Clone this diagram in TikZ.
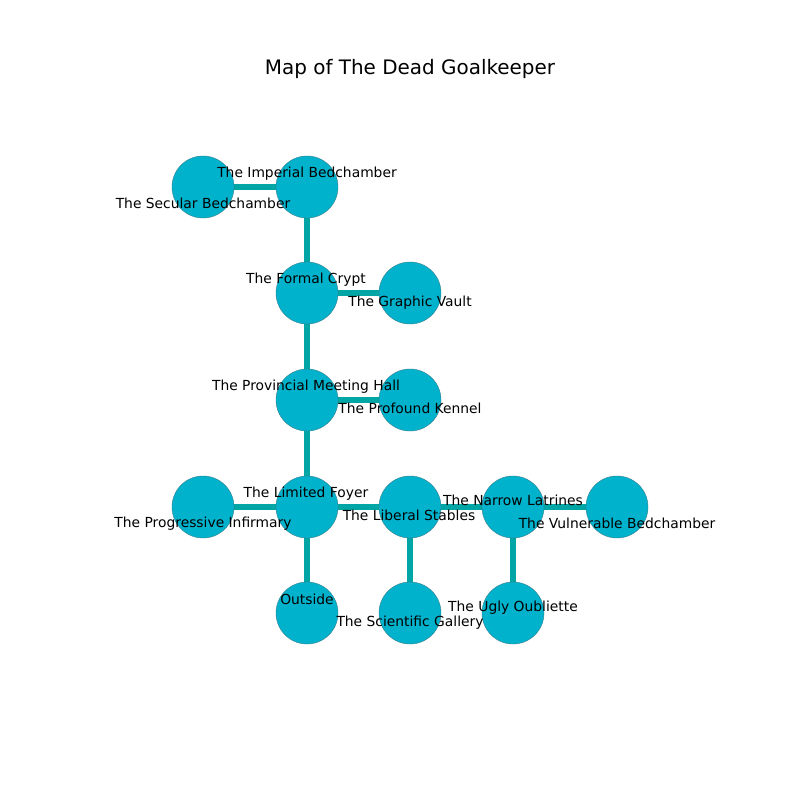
\documentclass[tikz,border=0pt]{standalone}
\usepackage{fontspec}
\setmainfont{DejaVu Sans}
\definecolor{nodefill}{HTML}{00B2CC}
\definecolor{edgecol}{HTML}{00A5A5}
\definecolor{nodeline}{HTML}{3C7F8C}
\begin{document}
\begin{tikzpicture}[x=0.01in,y=-0.01in,
  room/.style={circle,minimum size=0.62in,inner sep=0pt,fill=nodefill,draw=nodeline,line width=0.3pt},
  link/.style={draw=edgecol,line width=3.8pt},
  lbl/.style={font=\fontsize{10}{12}\selectfont,inner sep=0pt,text=black,yshift=-2pt}]
\useasboundingbox (0,0) rectangle (800,800);
\node[font=\fontsize{14.4}{17}\selectfont,inner sep=0pt] (title) at (410,69) {Map of The Dead Goalkeeper};
% coordinates of rooms
\coordinate (cSec) at (203,187);
\coordinate (cImp) at (307,187);
\coordinate (cFor) at (307,293);
\coordinate (cGra) at (410,293);
\coordinate (cPro) at (307,400);
\coordinate (cKen) at (410,400);
\coordinate (cInf) at (203,507);
\coordinate (cFoy) at (307,507);
\coordinate (cSta) at (410,507);
\coordinate (cLat) at (513,507);
\coordinate (cVul) at (617,507);
\coordinate (cOut) at (307,613);
\coordinate (cSci) at (410,613);
\coordinate (cUgl) at (513,613);
% edges
\draw[link] (cSec) -- (cImp);
\draw[link] (cImp) -- (cFor);
\draw[link] (cFor) -- (cGra);
\draw[link] (cFor) -- (cPro);
\draw[link] (cPro) -- (cKen);
\draw[link] (cPro) -- (cFoy);
\draw[link] (cInf) -- (cFoy);
\draw[link] (cFoy) -- (cSta);
\draw[link] (cFoy) -- (cOut);
\draw[link] (cSta) -- (cLat);
\draw[link] (cSta) -- (cSci);
\draw[link] (cLat) -- (cVul);
\draw[link] (cLat) -- (cUgl);
% nodes
\node[room] (sec) at (cSec) {};
\node[room] (imp) at (cImp) {};
\node[room] (for) at (cFor) {};
\node[room] (gra) at (cGra) {};
\node[room] (pro) at (cPro) {};
\node[room] (ken) at (cKen) {};
\node[room] (inf) at (cInf) {};
\node[room] (foy) at (cFoy) {};
\node[room] (sta) at (cSta) {};
\node[room] (lat) at (cLat) {};
\node[room] (vul) at (cVul) {};
\node[room] (out) at (cOut) {};
\node[room] (sci) at (cSci) {};
\node[room] (ugl) at (cUgl) {};
% labels
\node[lbl] (lImp) at (307,171) {The Imperial Bedchamber};
\node[lbl] (lSec) at (203,201) {The Secular Bedchamber};
\node[lbl] (lFor) at (306,277) {The Formal Crypt};
\node[lbl] (lGra) at (410,300) {The Graphic Vault};
\node[lbl] (lPro) at (306,384) {The Provincial Meeting Hall};
\node[lbl] (lKen) at (410,406) {The Profound Kennel};
\node[lbl] (lFoy) at (306,491) {The Limited Foyer};
\node[lbl] (lInf) at (203,521) {The Progressive Infirmary};
\node[lbl] (lSta) at (409,513) {The Liberal Stables};
\node[lbl] (lLat) at (513,498) {The Narrow Latrines};
\node[lbl] (lVul) at (617,521) {The Vulnerable Bedchamber};
\node[lbl] (lOut) at (307,597) {Outside};
\node[lbl] (lSci) at (410,620) {The Scientific Gallery};
\node[lbl] (lUgl) at (513,605) {The Ugly Oubliette};
\end{tikzpicture}
\end{document}
